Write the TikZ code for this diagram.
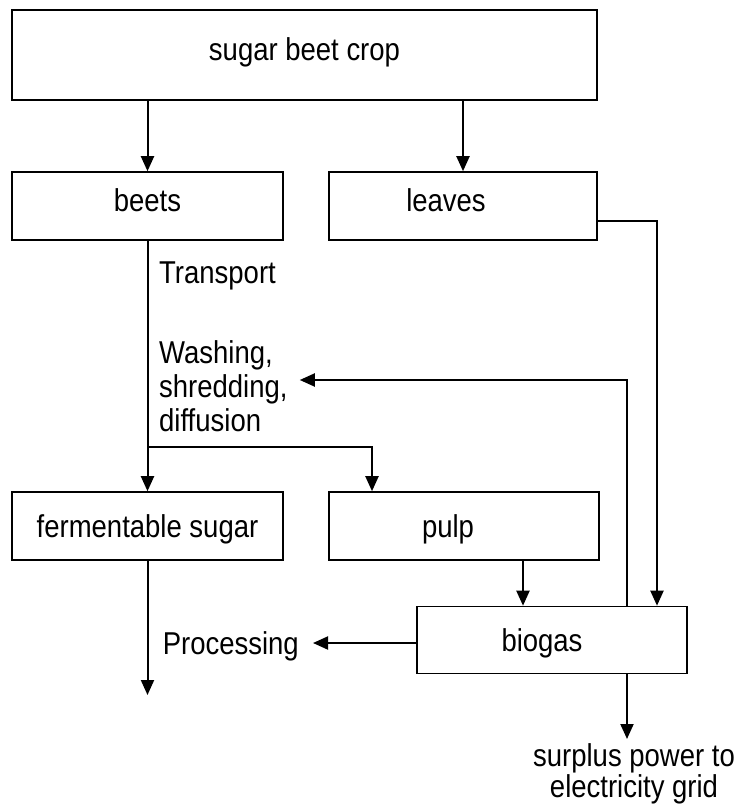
\documentclass[tikz,border=0pt]{standalone}
\usepackage{fontspec}
\setmainfont[FakeStretch=0.87]{Liberation Sans}
\usetikzlibrary{arrows.meta}
\tikzset{
  >={Triangle[length=15pt,width=13pt]},
  box/.style={draw,line width=1.6pt,inner sep=0pt,minimum height=68pt,
    text height=22pt,text depth=12pt},
  lowtext/.style={text depth=-12pt},
  flow/.style={line width=2pt,->},
  lbl/.style={inner sep=0pt,align=left},
}

\begin{document}
\begin{tikzpicture}[x=1pt,y=-1pt,font=\fontsize{31.6}{34}\selectfont]
        \useasboundingbox (0,0) rectangle (742,808);
        % boxes
        \node[box,minimum width=585pt,minimum height=90pt] (crop) at (304.5,55) {sugar beet crop};
        \node[box,minimum width=271pt] (beets) at (147.5,206) {beets};
        \node[box,minimum width=268pt] (leaves) at (463,206) {leaves\hspace*{34pt}};
        \node[box,lowtext,minimum width=271pt] (sugar) at (147.5,526) {fermentable sugar};
        \node[box,lowtext,minimum width=270pt] (pulp) at (464,526) {pulp\hspace*{32pt}};
        \node[box,minimum width=270pt,minimum height=67pt,text depth=-5pt] (biogas) at (552,640) {biogas\hspace*{20pt}};
        % labels
        \node[lbl,anchor=base west] (transport) at (159,283) {Transport};
        \node[lbl,anchor=north west] (washing) at (159,340) {Washing,\\shredding,\\diffusion};
        \node[lbl,anchor=base east] (processing) at (299,654) {Processing};
        \node[lbl,align=center,anchor=north,font=\fontsize{31.6}{31}\selectfont] (surplus) at (634,743) {surplus power to\\electricity grid};
        % bends and free ends
        \coordinate (split) at (147.5,447);
        \coordinate (pulpin) at (372,447);
        \coordinate (lv) at (657,221);
        \coordinate (ret) at (627,380);
        \coordinate (sugarout) at (147.5,695);
        \coordinate (procin) at (313,643);
        \coordinate (gridin) at (627,739);
        % flows
        \draw[flow] (crop.south -| beets) -- (beets);
        \draw[flow] (crop.south -| leaves) -- (leaves);
        \draw[flow] (beets) -- (sugar);
        \draw[flow] (split) -- (pulpin) -- (pulpin |- pulp.north);
        \draw[flow] (leaves.east |- lv) -- (lv) -- (lv |- biogas.north);
        \draw[flow] (biogas.north -| ret) -- (ret) -- ([xshift=12pt]washing.east |- ret);
        \draw[flow] ([xshift=59pt]pulp.south) -- ([xshift=59pt]pulp.south |- biogas.north);
        \draw[flow] (sugar) -- (sugarout);
        \draw[flow] (biogas.west |- procin) -- (procin);
        \draw[flow] (biogas.south -| gridin) -- (gridin);
      \end{tikzpicture}
\end{document}
